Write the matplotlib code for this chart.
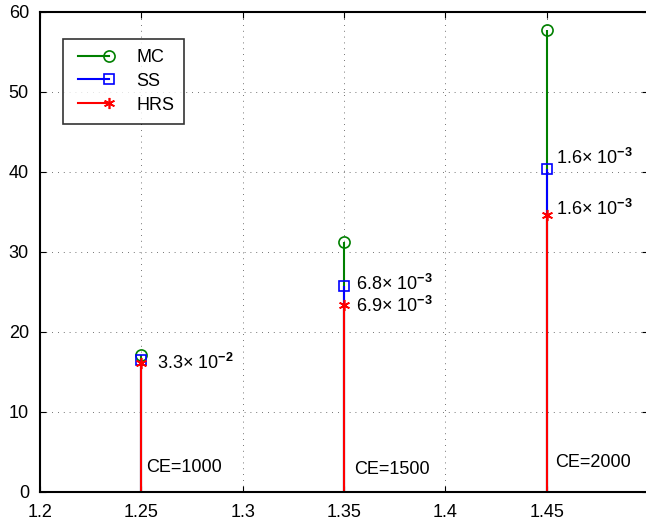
import numpy as np
import matplotlib.pyplot as plt
from matplotlib.lines import Line2D
from matplotlib.legend_handler import HandlerLine2D

plt.rcParams['font.family'] = ['Liberation Sans', 'DejaVu Sans']
plt.rcParams['mathtext.fontset'] = 'custom'
plt.rcParams['mathtext.rm'] = 'Liberation Sans'
plt.rcParams['mathtext.it'] = 'Liberation Sans'
plt.rcParams['mathtext.bf'] = 'Liberation Sans:bold'

# data
x = [1.25, 1.35, 1.45]
mc = [17.1, 31.2, 57.7]
ss = [16.5, 25.7, 40.4]
hrs = [16.1, 23.3, 34.6]
ce_labels = ['CE=1000', 'CE=1500', 'CE=2000']
ss_notes = [r'3.3$\times$ 10$^{\mathbf{-2}}$', r'6.8$\times$ 10$^{\mathbf{-3}}$', r'1.6$\times$ 10$^{\mathbf{-3}}$']
hrs_notes = [None, r'6.9$\times$ 10$^{\mathbf{-3}}$', r'1.6$\times$ 10$^{\mathbf{-3}}$']

green = '#008000'
blue = '#0000ff'
red = '#ff0000'
fs = 13


class EndMarkerHandler(HandlerLine2D):
    # stem style legend: line with the marker only at its right end
    def create_artists(self, legend, orig_handle, xdescent, ydescent,
                       width, height, fontsize, trans):
        arts = super().create_artists(legend, orig_handle, xdescent, ydescent,
                                      width, height, fontsize, trans)
        for a in arts:
            xd, yd = a.get_data()
            if a.get_marker() not in (None, 'None', ''):
                a.set_markevery([len(xd) - 1])
        return arts


fig = plt.figure(figsize=(6.46, 5.23), dpi=100)
ax = fig.add_axes([40/646, 31.3/523, 608/646, 479.7/523])

ax.grid(True, color='#444444', linestyle=(0, (1, 6)), linewidth=0.6)
ax.set_axisbelow(True)

series = [(mc, green, 'o', 'MC'), (ss, blue, 's', 'SS'), (hrs, red, (6, 2, 0), 'HRS')]
handles = []
for vals, col, mk, lab in series:
    msize = 7 if mk == 's' else 8
    ax.vlines(x, 0, vals, color=col, linewidth=1.5)
    ax.plot(x, vals, linestyle='none', marker=mk, markersize=msize,
            markerfacecolor='none', markeredgecolor=col, markeredgewidth=1.2)
    handles.append(Line2D([0, 1], [0, 0], color=col, linewidth=1.5, marker=mk,
                          markersize=msize, markerfacecolor='none',
                          markeredgecolor=col, markeredgewidth=1.2, label=lab))

ppx = 0.05 / (608 / 6)  # data units per pixel along x
ss_y = [15.4, 25.25, 41.0]
ss_dx = [16, 12, 9]
for xi, yi, dx, t in zip(x, ss_y, ss_dx, ss_notes):
    ax.text(xi + dx * ppx, yi, t, fontsize=fs, va='baseline', ha='left')
hrs_y = [None, 22.5, 34.6]
for xi, yi, dx, t in zip(x, hrs_y, ss_dx, hrs_notes):
    if t:
        ax.text(xi + dx * ppx, yi, t, fontsize=fs, va='baseline', ha='left')

ce_y = [2.5, 2.25, 3.1]
ce_dx = [5, 10, 8]
for xi, yi, dx, t in zip(x, ce_y, ce_dx, ce_labels):
    ax.text(xi + dx * ppx, yi, t, fontsize=fs, va='baseline', ha='left')

ax.set_xlim(1.2, 1.5)
ax.set_ylim(0, 60)
ax.set_xticks([1.2, 1.25, 1.3, 1.35, 1.4, 1.45])
ax.set_xticklabels(['1.2', '1.25', '1.3', '1.35', '1.4', '1.45'])
ax.set_yticks(np.arange(0, 61, 10))
ax.tick_params(direction='in', top=True, right=True, labelsize=fs, length=4, width=0.8)
ax.tick_params(axis='x', pad=9)
ax.tick_params(axis='y', pad=8)
for s in ax.spines.values():
    s.set_linewidth(1.5)

leg = ax.legend(handles=handles, loc='upper left', bbox_to_anchor=(63/646, 1 - 39/523),
                bbox_transform=fig.transFigure, handler_map={Line2D: EndMarkerHandler(numpoints=2)},
                handlelength=2.3, fontsize=fs, frameon=True, fancybox=False,
                edgecolor='k', borderpad=0.55, labelspacing=0.38, handletextpad=1.2,
                borderaxespad=0)
leg.get_frame().set_linewidth(1.2)

fig.savefig('out.png', dpi=100)
